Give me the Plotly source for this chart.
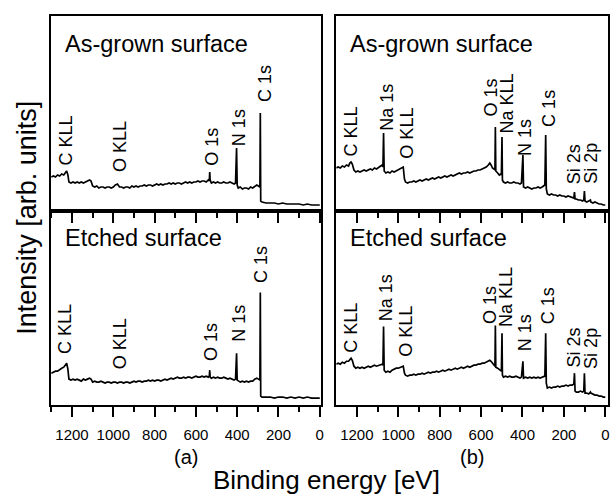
import plotly.graph_objects as go

# ---------------- data (binding energy in eV, intensity in arb. units) ----------------
# Panel (a), as-grown surface
E_a_top = [1300, 1290, 1280, 1270, 1260, 1250, 1240, 1232, 1226, 1220, 1215, 1205, 1195, 1185, 1175,
           1165, 1155, 1145, 1135, 1125, 1115, 1108, 1100, 1090, 1080, 1070, 1060, 1050, 1040, 1030,
           1020, 1010, 1000, 990, 980, 970, 960, 950, 940, 930, 920, 910, 900, 890, 880, 870, 860,
           850, 840, 830, 820, 810, 800, 790, 780, 770, 760, 750, 740, 730, 720, 710, 700, 690, 680,
           670, 660, 650, 640, 630, 620, 610, 600, 590, 580, 570, 560, 550, 540, 535, 533, 531, 525,
           515, 505, 495, 485, 475, 465, 455, 445, 435, 425, 415, 408, 403, 400, 395, 385, 375, 365,
           355, 345, 335, 325, 315, 305, 297, 290, 288, 286, 280, 260, 240, 220, 200, 180, 160, 140,
           120, 100, 80, 60, 40, 20, 0]
I_a_top = [34, 35, 34, 36, 35, 37, 36, 39, 40, 36, 29, 28, 29, 28, 29,
           28, 29, 28, 29, 30, 31, 30, 25, 24, 25, 23, 24, 24, 23, 24,
           24, 23, 24, 26, 27, 24, 24, 23, 24, 24, 23, 25, 24, 25, 24, 25, 25,
           26, 25, 26, 26, 25, 26, 27, 26, 27, 26, 27, 27, 28, 27, 28, 27, 28, 28,
           27, 28, 29, 28, 29, 28, 29, 29, 30, 29, 30, 30, 29, 31, 30, 39, 31, 28,
           29, 28, 29, 28, 28, 29, 28, 28, 29, 28, 27, 28, 63, 26, 23, 24, 22, 23,
           23, 22, 24, 23, 25, 26, 25, 24, 98, 10, 9, 8, 8, 8, 7, 8, 7, 7,
           7, 7, 6, 7, 6, 6, 6]

# Panel (a), etched surface
E_a_bot = E_a_top
I_a_bot = [32, 33, 34, 34, 36, 37, 38, 41, 42, 36, 26, 25, 26, 25, 26,
           25, 24, 26, 25, 26, 27, 26, 23, 24, 23, 23, 24, 23, 22, 23,
           23, 22, 23, 23, 22, 23, 23, 22, 23, 23, 22, 23, 24, 23, 24, 24, 23,
           24, 24, 25, 24, 25, 24, 25, 25, 24, 25, 26, 25, 26, 27, 26, 27, 28, 27,
           27, 28, 27, 28, 28, 27, 28, 29, 28, 28, 29, 28, 29, 28, 29, 35, 28, 27,
           28, 27, 28, 27, 27, 28, 27, 26, 27, 26, 25, 26, 52, 25, 24, 23, 24, 23,
           24, 23, 24, 24, 26, 27, 26, 25, 113, 9, 8, 8, 8, 7, 8, 8, 7, 8,
           7, 8, 7, 8, 7, 7, 7]

# Panel (b), as-grown surface
E_b_top = [1300, 1290, 1280, 1270, 1260, 1250, 1240, 1234, 1228, 1222, 1214, 1205, 1195, 1185, 1175,
           1165, 1155, 1145, 1135, 1125, 1115, 1105, 1095, 1085, 1078, 1074, 1071, 1068, 1060, 1050,
           1040, 1030, 1020, 1010, 1000, 990, 982, 976, 970, 965, 955, 945, 935, 925, 915, 905, 895,
           885, 875, 865, 855, 845, 835, 825, 815, 805, 795, 785, 775, 765, 755, 745, 735, 725, 715,
           705, 695, 685, 675, 665, 655, 645, 635, 625, 615, 605, 595, 585, 575, 565, 558, 552, 545,
           538, 533, 531, 529, 520, 512, 505, 502, 499, 497, 492, 482, 472, 462, 452, 442, 432, 422,
           412, 405, 398, 395, 385, 375, 365, 355, 345, 335, 325, 315, 305, 298, 292, 288, 285, 280,
           270, 260, 250, 240, 230, 220, 210, 200, 190, 180, 170, 160, 152, 149, 146, 140, 130, 120,
           110, 104, 101, 98, 90, 80, 72, 70, 60, 50, 40, 30, 20, 10, 0]
I_b_top = [43, 44, 43, 45, 44, 46, 45, 48, 49, 47, 41, 39, 40, 39, 40,
           41, 40, 41, 42, 41, 43, 42, 44, 45, 46, 44, 78, 40, 38, 39,
           38, 40, 39, 40, 41, 42, 43, 44, 32, 29, 28, 29, 29, 30, 29, 30, 31,
           30, 31, 32, 31, 32, 33, 32, 33, 34, 33, 34, 35, 34, 35, 36, 35, 36, 37,
           38, 37, 38, 38, 39, 38, 39, 40, 40, 41, 41, 42, 43, 44, 46, 48, 46, 43,
           42, 41, 84, 40, 38, 36, 37, 36, 74, 31, 29, 28, 29, 28, 28, 29, 28, 28,
           27, 28, 56, 24, 23, 24, 23, 22, 23, 23, 24, 23, 24, 25, 26, 76, 22, 17,
           16, 17, 16, 16, 15, 16, 15, 15, 14, 15, 14, 13, 13, 19, 12, 12, 11, 11,
           10, 11, 20, 10, 9, 10, 11, 9, 8, 9, 8, 7, 7, 6, 6]

# Panel (b), etched surface
E_b_bot = E_b_top
I_b_bot = [41, 42, 41, 43, 42, 44, 44, 46, 47, 45, 39, 37, 38, 37, 38,
           37, 38, 39, 38, 39, 40, 39, 40, 41, 41, 40, 79, 35, 33, 34,
           33, 35, 36, 37, 37, 38, 39, 39, 32, 30, 29, 30, 30, 31, 30, 31, 31,
           32, 31, 32, 33, 32, 33, 33, 34, 33, 34, 35, 34, 35, 36, 35, 36, 37, 36,
           37, 38, 37, 38, 39, 38, 39, 40, 40, 41, 41, 42, 42, 43, 44, 45, 44, 42,
           40, 39, 80, 38, 37, 36, 35, 34, 72, 30, 28, 29, 28, 29, 28, 28, 29, 28,
           27, 28, 44, 27, 28, 27, 28, 27, 28, 27, 28, 27, 28, 28, 29, 72, 22, 17,
           18, 17, 18, 18, 19, 18, 19, 19, 20, 19, 20, 20, 21, 32, 14, 13, 13, 14,
           13, 14, 32, 12, 12, 11, 13, 12, 11, 10, 10, 9, 9, 8, 8]

# Peak labels
labels_a = ["C KLL", "O KLL", "O 1s", "N 1s", "C 1s"]
label_E_a_top = [1231, 970, 523, 393, 268]
label_I_a_top = [44, 38, 44, 64, 108]
label_E_a_bot = [1235, 970, 528, 391, 285]
label_I_a_bot = [50, 35, 43, 62, 122]

labels_b = ["C KLL", "Na 1s", "O KLL", "O 1s", "Na KLL", "N 1s", "C 1s", "Si 2s", "Si 2p"]
label_E_b = [1226, 1058, 962, 554, 477, 390, 275, 150, 73]
label_I_b_top = [54, 79, 51, 93, 76, 54, 83, 26, 26]
label_I_b_bot = [52, 83, 47, 80, 77, 53, 80, 37, 35]

major_ticks = [0, 200, 400, 600, 800, 1000, 1200]
minor_ticks = [100, 300, 500, 700, 900, 1100, 1300]

# ---------------- figure ----------------
W, H = 614, 495
FONT = "Arial, Liberation Sans, Helvetica, sans-serif"

fig = go.Figure()
series = [(E_a_top, I_a_top, "x", "y"), (E_b_top, I_b_top, "x2", "y2"),
          (E_a_bot, I_a_bot, "x3", "y3"), (E_b_bot, I_b_bot, "x4", "y4")]
for ex, iy, xa, ya in series:
    fig.add_trace(go.Scatter(x=ex, y=iy, xaxis=xa, yaxis=ya, mode="lines",
                             line=dict(color="black", width=1.7), showlegend=False,
                             hoverinfo="skip"))

dom_a = [51 / W, 323 / W]
dom_b = [338 / W, 611 / W]
dom_top = [(H - 211) / H, (H - 16) / H]
dom_bot = [(H - 405) / H, (H - 211) / H]


def xax(domain, rng, anchor, labels):
    d = dict(domain=domain, range=rng, anchor=anchor, showline=True, linecolor="black",
             linewidth=2, mirror=True, showgrid=False, zeroline=False,
             tickmode="array", tickvals=major_ticks, ticktext=[str(v) for v in major_ticks],
             ticks="outside", ticklen=10, tickwidth=2, tickcolor="black",
             minor=dict(tickmode="array", tickvals=minor_ticks, ticks="outside",
                        ticklen=5, tickwidth=2, tickcolor="black", showgrid=False),
             showticklabels=labels, tickfont=dict(family=FONT, size=15, color="black"))
    if labels:
        d["ticklabelstandoff"] = 5
    return d


def yax(domain, anchor):
    return dict(domain=domain, range=[0, 195], anchor=anchor, showline=True,
                linecolor="black", linewidth=2, mirror=True, showgrid=False,
                zeroline=False, ticks="", showticklabels=False)


range_a = [1303, -8]
range_b = [1299, -13]

fig.update_layout(
    width=W, height=H, margin=dict(l=0, r=0, t=0, b=0),
    paper_bgcolor="white", plot_bgcolor="white",
    xaxis=xax(dom_a, range_a, "y", False), yaxis=yax(dom_top, "x"),
    xaxis2=xax(dom_b, range_b, "y2", False), yaxis2=yax(dom_top, "x2"),
    xaxis3=xax(dom_a, range_a, "y3", True), yaxis3=yax(dom_bot, "x3"),
    xaxis4=xax(dom_b, range_b, "y4", True), yaxis4=yax(dom_bot, "x4"),
)

ann = []


def peak_labels(names, xs, ys, xr, yr):
    for n, xv, yv in zip(names, xs, ys):
        ann.append(dict(text=n, x=xv, y=yv, xref=xr, yref=yr, showarrow=False,
                        textangle=-90, xanchor="center", yanchor="bottom", borderpad=0,
                        font=dict(family=FONT, size=18, color="black")))


peak_labels(labels_a, label_E_a_top, label_I_a_top, "x", "y")
peak_labels(labels_a, label_E_a_bot, label_I_a_bot, "x3", "y3")
peak_labels(labels_b, label_E_b, label_I_b_top, "x2", "y2")
peak_labels(labels_b, label_E_b, label_I_b_bot, "x4", "y4")


def paper_text(text, px, py, size, xanchor="left", angle=0):
    ann.append(dict(text=text, x=px / W, y=(H - py) / H, xref="paper", yref="paper",
                    showarrow=False, xanchor=xanchor, yanchor="middle", textangle=angle,
                    font=dict(family=FONT, size=size, color="black")))


paper_text("As-grown surface", 63, 44, 23.5)
paper_text("As-grown surface", 350, 44, 23.5)
paper_text("Etched surface", 63, 238, 23.5)
paper_text("Etched surface", 350, 238, 23.5)
paper_text("(a)", 187, 457, 20, "center")
paper_text("(b)", 474, 457, 20, "center")
paper_text("Binding energy [eV]", 328, 480, 26, "center")
paper_text("Intensity [arb. units]", 27, 218, 27, "center", -90)

fig.update_layout(annotations=ann)
fig.write_html("out.html")
